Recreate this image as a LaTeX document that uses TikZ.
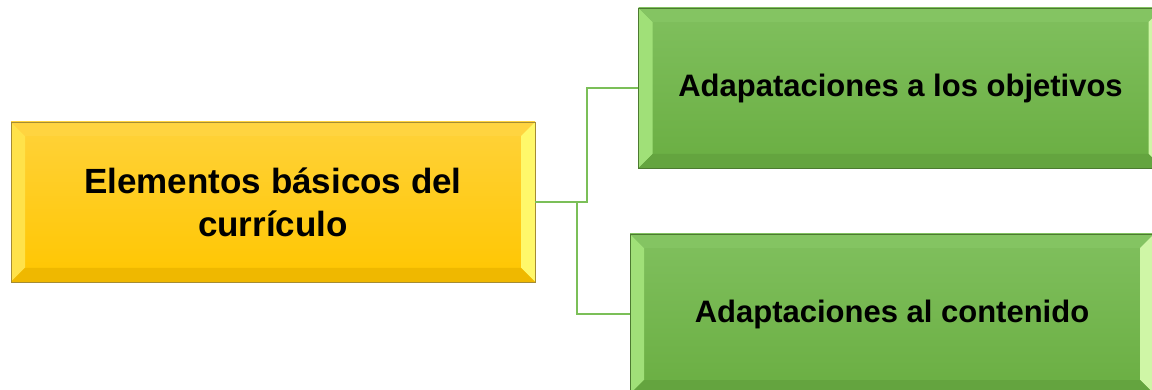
\documentclass[tikz,border=0pt]{standalone}
\usepackage{fontspec}
\setmainfont{Liberation Sans}

\definecolor{yelTop}{HTML}{FFD23A}
\definecolor{yelBot}{HTML}{FFC600}
\definecolor{yelL}{HTML}{FFE24A}
\definecolor{yelR}{HTML}{FFF86A}
\definecolor{yelT}{HTML}{FFD440}
\definecolor{yelB}{HTML}{EFB800}
\definecolor{yelEdge}{HTML}{A48C34}
\definecolor{grnTop}{HTML}{80C05E}
\definecolor{grnBot}{HTML}{6AAE42}
\definecolor{grnL}{HTML}{A0E078}
\definecolor{grnR}{HTML}{CFF6A6}
\definecolor{grnT}{HTML}{84C462}
\definecolor{grnB}{HTML}{64A43F}
\definecolor{grnEdge}{HTML}{4C7A30}
\definecolor{linkGreen}{HTML}{7BBF58}

\begin{document}
\begin{tikzpicture}[
	x=1pt, y=-1pt,
	bevel left/.store in=\bevelleft,
	bevel right/.store in=\bevelright,
	bevel top/.store in=\beveltop,
	bevel bottom/.store in=\bevelbottom,
	bevelbox/.style={
		rectangle,
		minimum width=524pt,
		minimum height=160pt,
		line width=0.8pt,
		text centered,
		align=center,
		path picture={
			\coordinate (sw) at (path picture bounding box.south west);
			\coordinate (nw) at (path picture bounding box.north west);
			\coordinate (ne) at (path picture bounding box.north east);
			\coordinate (se) at (path picture bounding box.south east);
			\fill[\bevelleft] (sw) -- (nw) -- ([shift={(14pt,-14pt)}]nw) -- ([shift={(14pt,14pt)}]sw) -- cycle;
			\fill[\beveltop] (nw) -- (ne) -- ([shift={(-14pt,-14pt)}]ne) -- ([shift={(14pt,-14pt)}]nw) -- cycle;
			\fill[\bevelright] (ne) -- (se) -- ([shift={(-14pt,14pt)}]se) -- ([shift={(-14pt,-14pt)}]ne) -- cycle;
			\fill[\bevelbottom] (se) -- (sw) -- ([shift={(14pt,14pt)}]sw) -- ([shift={(-14pt,14pt)}]se) -- cycle;
		}
	},
	yellowbox/.style={
		bevelbox,
		top color=yelTop,
		bottom color=yelBot,
		draw=yelEdge,
		bevel left=yelL,
		bevel right=yelR,
		bevel top=yelT,
		bevel bottom=yelB,
		font=\bfseries\fontsize{35}{43}\selectfont
	},
	greenbox/.style={
		bevelbox,
		top color=grnTop,
		bottom color=grnBot,
		draw=grnEdge,
		bevel left=grnL,
		bevel right=grnR,
		bevel top=grnT,
		bevel bottom=grnB,
		font=\bfseries\fontsize{31}{37}\selectfont
	},
	link/.style={
		draw=linkGreen,
		line width=2pt
	}
]
\useasboundingbox (0,0) rectangle (1152,390);
\clip (0,0) rectangle (1152,390);

% Main element
\node [yellowbox] (Elementos) at (273,202) {Elementos básicos del\\currículo};

% Adaptations
\node [greenbox] (Objetivos) at (900.5,88) {Adapataciones a los objetivos};
\node [greenbox] (Contenido) at (892,314) {Adaptaciones al contenido};

% Links
\draw [link] (Elementos.east) -- ++(52pt,0) |- (Objetivos.west);
\draw [link] (Elementos.east) -- ++(42pt,0) |- (Contenido.west);

\end{tikzpicture}
\end{document}
